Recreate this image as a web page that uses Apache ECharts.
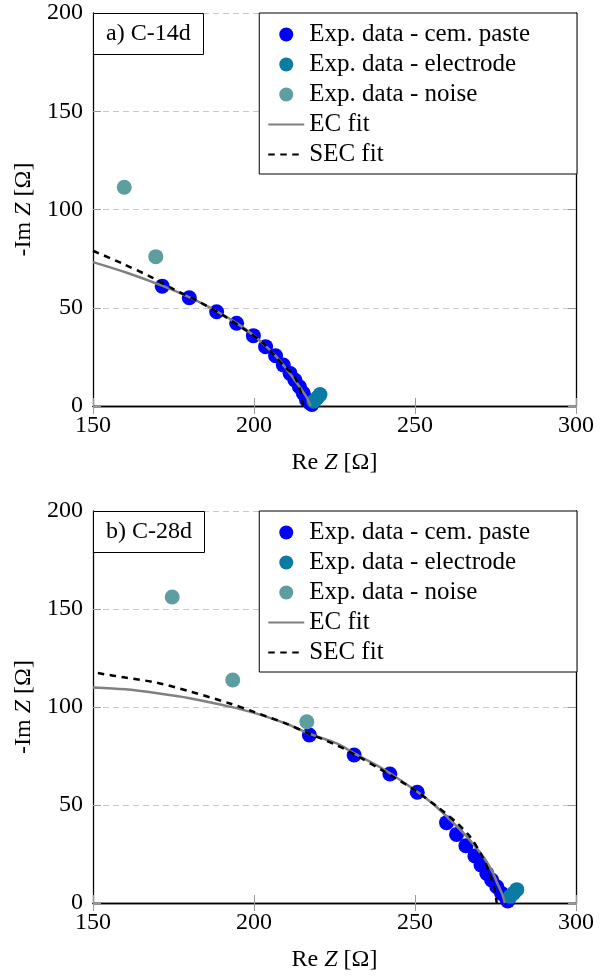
<!DOCTYPE html>
<html>
<head>
<meta charset="utf-8">
<script src="https://cdn.jsdelivr.net/npm/echarts@6/dist/echarts.min.js"></script>
<style>
  html, body { margin: 0; padding: 0; background: #fff; }
  #chart { width: 607px; height: 976px; }
</style>
</head>
<body>
<div id="chart"></div>
<script>
// a) C-14d
var pasteA = [[171.5, 61], [179.9, 55.1], [188.4, 48], [194.6, 42.1], [199.8, 35.8], [203.6, 30.2],
  [206.7, 25.6], [209.1, 20.9], [211.2, 16.6], [212.7, 13.2], [214.1, 9.8], [215.3, 6.5],
  [216.3, 3.1], [217.4, 1.4], [218, 0.8]];
var electrodeA = [[218.6, 2.4], [219.6, 4.1], [220.5, 5.8]];
var noiseA = [[159.7, 111.3], [169.5, 76]];
var ecFitA = [[150, 73.2], [160.5, 67.8], [171, 61.5], [180, 55.3], [188, 48.6], [195, 41.8], [200, 35.8],
  [204, 30], [207, 25], [210, 19], [212.5, 13.5], [214.5, 9], [216.5, 4], [217.6, 0]];
var secFitA = [[150, 79], [159, 72.6], [168.2, 65.5], [175, 59.5], [183, 53], [190, 46.5],
  [197, 39], [202.9, 31.9], [206.5, 25.5], [209.5, 20], [212.4, 15.6], [214.3, 8.1], [215.3, 0]];

// b) C-28d
var pasteB = [[217.2, 85.7], [231.1, 75.5], [242.2, 65.8], [250.7, 56.5], [259.8, 41], [262.9, 35],
  [265.8, 29.2], [268.6, 24], [270.5, 19.4], [272.3, 15.1], [273.8, 11.7], [275.4, 8.3],
  [276.9, 4.9], [278.4, 2.4], [278.8, 1]];
var electrodeB = [[279.6, 3.4], [280.6, 5], [281.6, 6.8]];
var noiseB = [[174.6, 156.1], [193.4, 113.8], [216.4, 92.5]];
var ecFitB = [[150, 110], [160, 109], [170, 107], [180, 104.5], [192.5, 100.2], [200, 97], [210, 91.5],
  [217, 86.5], [225.7, 81.4], [231, 76.5], [240, 68.5], [250.5, 57], [256, 50], [261, 42.3],
  [266, 34], [271.2, 23.6], [274, 16], [275.6, 10], [277.2, 4], [277.9, 0]];
var secFitB = [[151.5, 117.3], [160, 115], [169.8, 112.4], [180, 108], [192.5, 101.8], [200, 97.5],
  [210, 91.5], [217, 86.5], [225.7, 80.5], [231, 76], [240, 67.5], [250, 57.5], [257, 49],
  [262.9, 41], [267, 34], [270.5, 25], [273, 16], [274.5, 8], [275.4, 0]];

var xTicks = [150, 200, 250, 300];
var yTicks = [0, 50, 100, 150, 200];

var names = ['Exp. data - cem. paste', 'Exp. data - electrode', 'Exp. data - noise', 'EC fit', 'SEC fit'];
var colors = ['#0000ff', '#0a7ba3', '#5f9ea0', '#808080', '#000000'];
var font = 'Liberation Serif';

var myChart = echarts.init(document.getElementById('chart'));

function xAxes(grid) {
  return [{
    gridIndex: grid, type: 'value', min: xTicks[0], max: xTicks[xTicks.length - 1], interval: 50,
    name: 'Re {i|Z} [Ω]', nameLocation: 'middle', nameGap: 45,
    nameTextStyle: { fontFamily: font, fontSize: 24, color: '#000', rich: { i: { fontFamily: font, fontSize: 24, fontStyle: 'italic' } } },
    axisLine: { lineStyle: { color: '#000', width: 1.3 } },
    axisTick: { inside: true, length: 8, lineStyle: { color: '#999' } },
    axisLabel: { fontFamily: font, fontSize: 24, color: '#000', margin: 8 },
    splitLine: { show: false }
  }, {
    gridIndex: grid, type: 'value', position: 'top', min: xTicks[0], max: xTicks[xTicks.length - 1], interval: 50,
    axisLine: { lineStyle: { color: '#000', width: 1.3 } },
    axisTick: { inside: true, length: 8, lineStyle: { color: '#999' } },
    axisLabel: { show: false }, splitLine: { show: false }
  }];
}
function yAxes(grid) {
  return [{
    gridIndex: grid, type: 'value', min: yTicks[0], max: yTicks[yTicks.length - 1], interval: 50,
    name: '-Im {i|Z} [Ω]', nameLocation: 'middle', nameGap: 54,
    nameTextStyle: { fontFamily: font, fontSize: 24, color: '#000', rich: { i: { fontFamily: font, fontSize: 24, fontStyle: 'italic' } } },
    axisLine: { show: true, lineStyle: { color: '#000', width: 1.3 } },
    axisTick: { inside: true, length: 8, lineStyle: { color: '#999' } },
    axisLabel: { fontFamily: font, fontSize: 24, color: '#000', margin: 10 },
    splitLine: { show: true, lineStyle: { color: '#c8c8c8', type: [6, 4], width: 1 } }
  }, {
    gridIndex: grid, type: 'value', position: 'right', min: yTicks[0], max: yTicks[yTicks.length - 1], interval: 50,
    axisLine: { show: true, lineStyle: { color: '#000', width: 1.3 } },
    axisTick: { inside: true, length: 8, lineStyle: { color: '#999' } },
    axisLabel: { show: false }, splitLine: { show: false }
  }];
}

function seriesFor(grid, paste, electrode, noise, ec, sec) {
  var xi = grid * 2, yi = grid * 2;
  var pts = [paste, electrode, noise];
  var arr = [];
  pts.forEach(function (d, i) {
    arr.push({
      name: names[i], type: 'scatter', xAxisIndex: xi, yAxisIndex: yi, data: d,
      symbol: 'circle', symbolSize: 15, itemStyle: { color: colors[i], opacity: 1 }, z: 2
    });
  });
  arr.push({
    name: names[3], type: 'line', xAxisIndex: xi, yAxisIndex: yi, data: ec, smooth: 0.3,
    symbol: 'none', lineStyle: { color: colors[3], width: 2.5 }, itemStyle: { color: colors[3] }, z: 3
  });
  arr.push({
    name: names[4], type: 'line', xAxisIndex: xi, yAxisIndex: yi, data: sec, smooth: 0.3,
    symbol: 'none', lineStyle: { color: colors[4], width: 2.5, type: [6.5, 5.5] }, itemStyle: { color: colors[4] }, z: 4
  });
  return arr;
}

function legendFor(top) {
  var data = names.map(function (n, i) {
    return i < 3 ? { name: n, icon: 'circle' } : { name: n, itemStyle: { opacity: 0 } };
  });
  return {
    data: data, orient: 'vertical', right: 30, top: top,
    backgroundColor: '#fff', borderColor: '#000', borderWidth: 1,
    padding: [9, 47, 7, 8], itemGap: 5, itemWidth: 36, itemHeight: 14,
    textStyle: { fontFamily: font, fontSize: 25, color: '#000', lineHeight: 24 },
    selectedMode: false
  };
}

function titleFor(text, top) {
  return {
    text: text, left: 93, top: top, padding: [9, 13, 9, 13],
    borderColor: '#000', borderWidth: 1, backgroundColor: '#fff',
    textStyle: { fontFamily: font, fontSize: 24, fontWeight: 'normal', color: '#000' }
  };
}

var option = {
  animation: false,
  title: [titleFor('a) C-14d', 13), titleFor('b) C-28d', 511)],
  legend: [legendFor(13), legendFor(511)],
  grid: [
    { left: 93, top: 13, width: 483, height: 393 },
    { left: 93, top: 511, width: 483, height: 392 }
  ],
  xAxis: xAxes(0).concat(xAxes(1)),
  yAxis: yAxes(0).concat(yAxes(1)),
  series: seriesFor(0, pasteA, electrodeA, noiseA, ecFitA, secFitA)
    .concat(seriesFor(1, pasteB, electrodeB, noiseB, ecFitB, secFitB))
};
myChart.setOption(option);
</script>
</body>
</html>
